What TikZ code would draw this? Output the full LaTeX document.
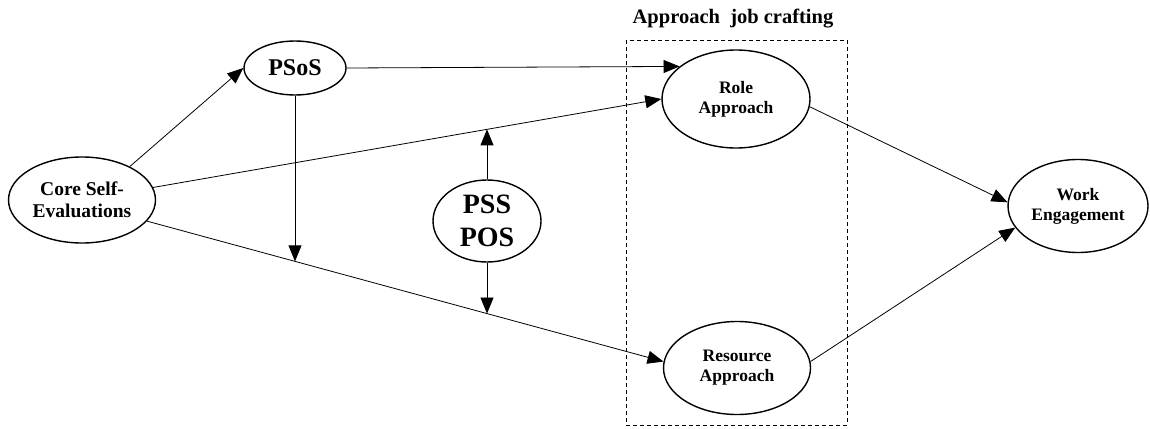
\documentclass[tikz,border=0pt]{standalone}
\usepackage{fontspec}
\setmainfont{Liberation Serif}
\usetikzlibrary{arrows.meta,shapes.geometric,intersections}

\begin{document}
\begin{tikzpicture}[x=1pt,y=-1pt,
	var/.style={draw,ellipse,fill=white,line width=1.4pt,inner sep=0pt,align=center},
	arr/.style={line width=0.8pt,-{Triangle[length=16pt,width=13pt]}}]
	\useasboundingbox (0,0) rectangle (1150,428);
	\draw[dash pattern=on 4pt off 3pt,line width=0.8pt] (626,40) rectangle (847,425);
	\node[font=\fontsize{20.5}{22}\selectfont\bfseries] (title) at (733,19) {Approach\ \ job\ crafting};
	\node[var,minimum width=147pt,minimum height=86pt,font=\fontsize{19.5}{22}\selectfont\bfseries] (cse) at (82,200) {Core Self-\\Evaluations};
	\node[var,minimum width=102pt,minimum height=54pt,font=\fontsize{24}{26}\selectfont\bfseries] (psos) at (295,68) {PSoS};
	\node[var,minimum width=108pt,minimum height=82pt,font=\fontsize{28}{33}\selectfont\bfseries] (pss) at (487,221) {PSS\\POS};
	\node[var,minimum width=148pt,minimum height=98pt,font=\fontsize{17.5}{20}\selectfont\bfseries] (role) at (736,99) {Role\\Approach};
	\node[var,minimum width=147pt,minimum height=93pt,font=\fontsize{17.5}{20}\selectfont\bfseries] (res) at (737,368) {Resource\\Approach};
	\node[var,minimum width=140pt,minimum height=93pt,font=\fontsize{17.5}{20}\selectfont\bfseries] (work) at (1078,206) {Work\\Engagement};
	\draw[arr] (cse.35) -- (psos.west);
	\draw[arr] (psos.east) -- (role.150);
	\draw[arr,name path=cr1] (cse.10) -- (role.west);
	\draw[arr,name path=cr2] (cse.-18) -- (res.175);
	\draw[arr] (role.-6) -- (work.177);
	\draw[arr] (res.5) -- (work.199);
	\path[name path=v1] (psos.south) -- ++(0,330);
	\path[name path=v2] (pss.north) -- ++(0,-150);
	\path[name path=v3] (pss.south) -- ++(0,150);
	\path[name intersections={of=v1 and cr2,by=m1}];
	\path[name intersections={of=v2 and cr1,by=m2}];
	\path[name intersections={of=v3 and cr2,by=m3}];
	\draw[arr] (psos.south) -- (m1);
	\draw[arr] (pss.north) -- (m2);
	\draw[arr] (pss.south) -- (m3);
\end{tikzpicture}
\end{document}
